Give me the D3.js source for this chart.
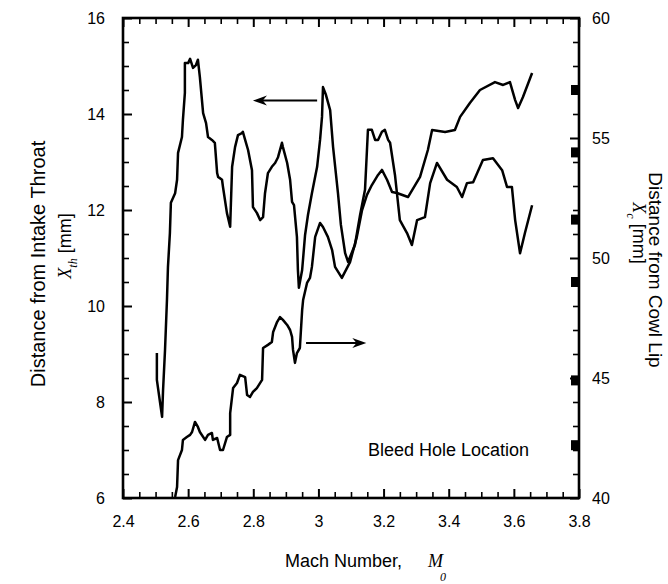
<!DOCTYPE html>
<html>
<head>
<meta charset="utf-8">
<script src="https://cdn.jsdelivr.net/npm/d3@7"></script>
<style>
  html, body { margin: 0; padding: 0; background: #fff; }
  svg { display: block; font-family: "Liberation Sans", Arial, Helvetica, sans-serif; }
</style>
</head>
<body>
<svg id="chart" width="668" height="584"></svg>
<script>
// Throat-referenced terminal shock position, X_th [mm] (left axis)
const machTh = [2.504, 2.504, 2.514, 2.520, 2.523, 2.529, 2.535, 2.538, 2.544, 2.547, 2.560, 2.566, 2.569, 2.581, 2.584, 2.590, 2.590, 2.600, 2.606, 2.615, 2.624, 2.630, 2.636, 2.646, 2.655, 2.661, 2.673, 2.682, 2.689, 2.692, 2.704, 2.707, 2.719, 2.729, 2.735, 2.744, 2.753, 2.765, 2.768, 2.775, 2.784, 2.796, 2.799, 2.811, 2.821, 2.830, 2.836, 2.845, 2.857, 2.867, 2.876, 2.888, 2.891, 2.904, 2.913, 2.919, 2.925, 2.934, 2.937, 2.940, 2.950, 2.959, 2.968, 2.980, 2.996, 3.005, 3.011, 3.014, 3.023, 3.036, 3.045, 3.060, 3.069, 3.082, 3.091, 3.112, 3.128, 3.143, 3.149, 3.152, 3.164, 3.174, 3.183, 3.195, 3.204, 3.214, 3.220, 3.235, 3.250, 3.272, 3.287, 3.303, 3.327, 3.343, 3.364, 3.395, 3.425, 3.441, 3.456, 3.475, 3.505, 3.536, 3.564, 3.579, 3.594, 3.604, 3.619, 3.634, 3.656];
const xTh = [9.02, 8.46, 7.98, 7.69, 8.25, 9.08, 10.13, 10.81, 11.52, 12.15, 12.35, 12.63, 13.19, 13.52, 13.88, 14.44, 15.06, 15.06, 15.15, 14.96, 15.02, 15.13, 14.77, 14.02, 13.81, 13.52, 13.46, 13.40, 12.77, 12.69, 12.63, 12.48, 11.94, 11.65, 12.90, 13.31, 13.56, 13.60, 13.63, 13.46, 13.25, 12.83, 12.06, 11.94, 11.79, 11.85, 12.35, 12.77, 12.90, 12.98, 13.10, 13.40, 13.31, 12.98, 12.63, 12.17, 12.10, 11.44, 10.75, 10.38, 10.75, 11.48, 11.90, 12.35, 12.90, 13.46, 13.94, 14.56, 14.40, 14.08, 13.31, 12.35, 11.69, 11.10, 10.92, 11.27, 11.90, 12.42, 13.25, 13.67, 13.67, 13.46, 13.46, 13.63, 13.67, 13.46, 13.40, 12.73, 11.79, 11.52, 11.27, 11.79, 11.85, 12.56, 12.98, 12.63, 12.48, 12.27, 12.56, 12.58, 13.04, 13.08, 12.83, 12.48, 12.48, 11.79, 11.10, 11.52, 12.10];

// Cowl-lip-referenced terminal shock position, X_c [mm] (right axis)
const machC = [2.560, 2.566, 2.569, 2.581, 2.584, 2.596, 2.606, 2.612, 2.621, 2.630, 2.636, 2.652, 2.661, 2.673, 2.676, 2.689, 2.698, 2.707, 2.719, 2.729, 2.729, 2.738, 2.750, 2.759, 2.775, 2.781, 2.790, 2.799, 2.811, 2.827, 2.830, 2.845, 2.857, 2.861, 2.873, 2.882, 2.891, 2.904, 2.913, 2.919, 2.922, 2.928, 2.934, 2.943, 2.950, 2.953, 2.965, 2.974, 2.980, 2.990, 3.005, 3.014, 3.029, 3.042, 3.051, 3.072, 3.097, 3.118, 3.134, 3.149, 3.164, 3.183, 3.195, 3.211, 3.226, 3.241, 3.275, 3.312, 3.336, 3.349, 3.389, 3.419, 3.435, 3.465, 3.496, 3.542, 3.567, 3.588, 3.604, 3.613, 3.628, 3.656];
const xC = [40.04, 40.46, 41.58, 42.00, 42.42, 42.54, 42.63, 42.75, 43.17, 42.96, 42.75, 42.42, 42.63, 42.71, 42.42, 42.50, 42.00, 42.00, 42.54, 42.63, 43.54, 44.58, 44.79, 45.13, 45.04, 44.29, 44.21, 44.42, 44.58, 44.92, 46.25, 46.38, 46.50, 46.92, 47.33, 47.54, 47.42, 47.21, 47.00, 46.71, 46.17, 45.63, 46.04, 46.25, 47.83, 48.25, 48.96, 49.17, 49.63, 50.88, 51.46, 51.29, 50.88, 50.33, 49.63, 49.17, 49.83, 50.88, 52.00, 52.63, 53.04, 53.46, 53.67, 53.25, 52.75, 52.71, 52.54, 53.38, 54.50, 55.33, 55.25, 55.33, 55.88, 56.46, 57.00, 57.33, 57.21, 57.33, 56.58, 56.25, 56.71, 57.71];

// Bleed hole positions along the cowl, X_c [mm]
const bleedHoles = [57.0, 54.4, 51.6, 49.0, 44.9, 42.2];

// Axis ticks
const machTicks = [2.4, 2.6, 2.8, 3.0, 3.2, 3.4, 3.6, 3.8];
const machTickLabels = ["2.4", "2.6", "2.8", "3", "3.2", "3.4", "3.6", "3.8"];
const thTicks = [6, 8, 10, 12, 14, 16];
const cTicks = [40, 45, 50, 55, 60];

// Annotation arrows: [mach start, mach end, value]
const arrowTh = [2.996, 2.799, 14.28];
const arrowC = [2.962, 3.147, 46.46];

const svg = d3.select("#chart");
const W = 668, H = 584;
const plotL = 123, plotR = 579, plotT = 18, plotB = 498;

svg.append("rect").attr("width", W).attr("height", H).attr("fill", "#fff");

const x = d3.scaleLinear().domain([2.4, 3.8]).range([plotL, plotR]);
const yL = d3.scaleLinear().domain([6, 16]).range([plotB, plotT]);
const yR = d3.scaleLinear().domain([40, 60]).range([plotB, plotT]);

const round2 = v => Math.round(v * 100) / 100;
const minorMach = d3.range(0, 29).map(i => round2(2.4 + i * 0.05)).filter(v => !machTicks.some(t => Math.abs(t - v) < 1e-6));
const minorTh = d3.range(0, 21).map(i => 6 + i * 0.5).filter(v => !thTicks.includes(v));
const minorC = d3.range(40, 61).filter(v => !cTicks.includes(v));

function styleAxis(g, width) {
  g.select(".domain").remove();
  g.selectAll(".tick line").attr("stroke", "#000").attr("stroke-width", width);
  g.selectAll(".tick text").attr("fill", "#000").attr("font-size", 16)
    .attr("font-family", "'Liberation Sans', Arial, Helvetica, sans-serif");
}

// Bottom axis
svg.append("g").attr("transform", `translate(0,${plotB})`)
  .call(d3.axisBottom(x).tickValues(machTicks).tickFormat((d, i) => machTickLabels[i])
    .tickSizeInner(-9).tickSizeOuter(0).tickPadding(18))
  .call(g => styleAxis(g, 2));
svg.append("g").attr("transform", `translate(0,${plotB})`)
  .call(d3.axisBottom(x).tickValues(minorMach).tickFormat("").tickSizeInner(-6).tickSizeOuter(0))
  .call(g => styleAxis(g, 1.6));

// Top axis
svg.append("g").attr("transform", `translate(0,${plotT})`)
  .call(d3.axisTop(x).tickValues(machTicks).tickFormat("").tickSizeInner(-9).tickSizeOuter(0))
  .call(g => styleAxis(g, 2));
svg.append("g").attr("transform", `translate(0,${plotT})`)
  .call(d3.axisTop(x).tickValues(minorMach).tickFormat("").tickSizeInner(-6).tickSizeOuter(0))
  .call(g => styleAxis(g, 1.6));

// Left axis (X_th)
svg.append("g").attr("transform", `translate(${plotL},0)`)
  .call(d3.axisLeft(yL).tickValues(thTicks).tickSizeInner(-9).tickSizeOuter(0).tickPadding(18))
  .call(g => styleAxis(g, 2));
svg.append("g").attr("transform", `translate(${plotL},0)`)
  .call(d3.axisLeft(yL).tickValues(minorTh).tickFormat("").tickSizeInner(-6).tickSizeOuter(0))
  .call(g => styleAxis(g, 1.6));

// Right axis (X_c)
svg.append("g").attr("transform", `translate(${plotR},0)`)
  .call(d3.axisRight(yR).tickValues(cTicks).tickSizeInner(-9).tickSizeOuter(0).tickPadding(13))
  .call(g => styleAxis(g, 2));
svg.append("g").attr("transform", `translate(${plotR},0)`)
  .call(d3.axisRight(yR).tickValues(minorC).tickFormat("").tickSizeInner(-6).tickSizeOuter(0))
  .call(g => styleAxis(g, 1.6));

// Frame
svg.append("rect")
  .attr("x", plotL).attr("y", plotT)
  .attr("width", plotR - plotL).attr("height", plotB - plotT)
  .attr("fill", "none").attr("stroke", "#000").attr("stroke-width", 2.6);

// Bleed hole markers on the right axis
svg.append("g").selectAll("rect").data(bleedHoles).join("rect")
  .attr("x", plotR - 8).attr("width", 8)
  .attr("y", d => yR(d) - 5).attr("height", 10)
  .attr("fill", "#000");

// Curves
const lineTh = d3.line().x(d => x(d[0])).y(d => yL(d[1]));
const lineC = d3.line().x(d => x(d[0])).y(d => yR(d[1]));

svg.append("path")
  .datum(d3.zip(machTh, xTh))
  .attr("d", lineTh)
  .attr("fill", "none").attr("stroke", "#000").attr("stroke-width", 2.5)
  .attr("stroke-linejoin", "round");

svg.append("path")
  .datum(d3.zip(machC, xC))
  .attr("d", lineC)
  .attr("fill", "none").attr("stroke", "#000").attr("stroke-width", 2.5)
  .attr("stroke-linejoin", "round");

// Arrows pointing to each curve's axis
function arrow(x0, x1, y) {
  const dir = Math.sign(x1 - x0);
  const headLen = 14, headHalf = 5;
  svg.append("line")
    .attr("x1", x0).attr("x2", x1 - dir * headLen * 0.6)
    .attr("y1", y).attr("y2", y)
    .attr("stroke", "#000").attr("stroke-width", 2);
  svg.append("path")
    .attr("d", `M${x1},${y} L${x1 - dir * headLen},${y - headHalf} L${x1 - dir * headLen * 0.7},${y} L${x1 - dir * headLen},${y + headHalf} Z`)
    .attr("fill", "#000");
}
arrow(x(arrowTh[0]), x(arrowTh[1]), yL(arrowTh[2]));
arrow(x(arrowC[0]), x(arrowC[1]), yR(arrowC[2]));

// Annotation
svg.append("text")
  .attr("x", 368).attr("y", 456)
  .attr("font-size", 18).attr("fill", "#000")
  .text("Bleed Hole Location");

// X axis title
const xt = svg.append("text").attr("x", 285).attr("y", 567).attr("font-size", 18).attr("fill", "#000");
xt.append("tspan").text("Mach Number,");
xt.append("tspan").attr("x", 428).attr("font-style", "italic")
  .attr("font-family", "'Liberation Serif', 'Times New Roman', serif").text("M");
xt.append("tspan").attr("x", 440).attr("dy", 14).attr("font-size", 12).attr("font-style", "italic")
  .attr("font-family", "'Liberation Serif', 'Times New Roman', serif").text("0");

// Left axis title
svg.append("text")
  .attr("transform", "translate(45,264) rotate(-90)")
  .attr("text-anchor", "middle").attr("font-size", 20).attr("fill", "#000")
  .text("Distance from Intake Throat");
const lt = svg.append("text")
  .attr("transform", "translate(71,246) rotate(-90)")
  .attr("text-anchor", "middle").attr("font-size", 18).attr("fill", "#000");
lt.append("tspan").attr("font-style", "italic")
  .attr("font-family", "'Liberation Serif', 'Times New Roman', serif").text("X");
lt.append("tspan").attr("font-style", "italic").attr("font-size", 12).attr("dy", 6)
  .attr("font-family", "'Liberation Serif', 'Times New Roman', serif").text("th");
lt.append("tspan").attr("dy", -6).text(" [mm]");

// Right axis title
svg.append("text")
  .attr("transform", "translate(649,270) rotate(90)")
  .attr("text-anchor", "middle").attr("font-size", 19).attr("fill", "#000")
  .text("Distance from Cowl Lip");
const rt = svg.append("text")
  .attr("transform", "translate(633,233) rotate(90)")
  .attr("text-anchor", "middle").attr("font-size", 18).attr("fill", "#000");
rt.append("tspan").attr("font-style", "italic")
  .attr("font-family", "'Liberation Serif', 'Times New Roman', serif").text("X");
rt.append("tspan").attr("font-style", "italic").attr("font-size", 12).attr("dy", 6)
  .attr("font-family", "'Liberation Serif', 'Times New Roman', serif").text("c");
rt.append("tspan").attr("dy", -6).text(" [mm]");
</script>
</body>
</html>
